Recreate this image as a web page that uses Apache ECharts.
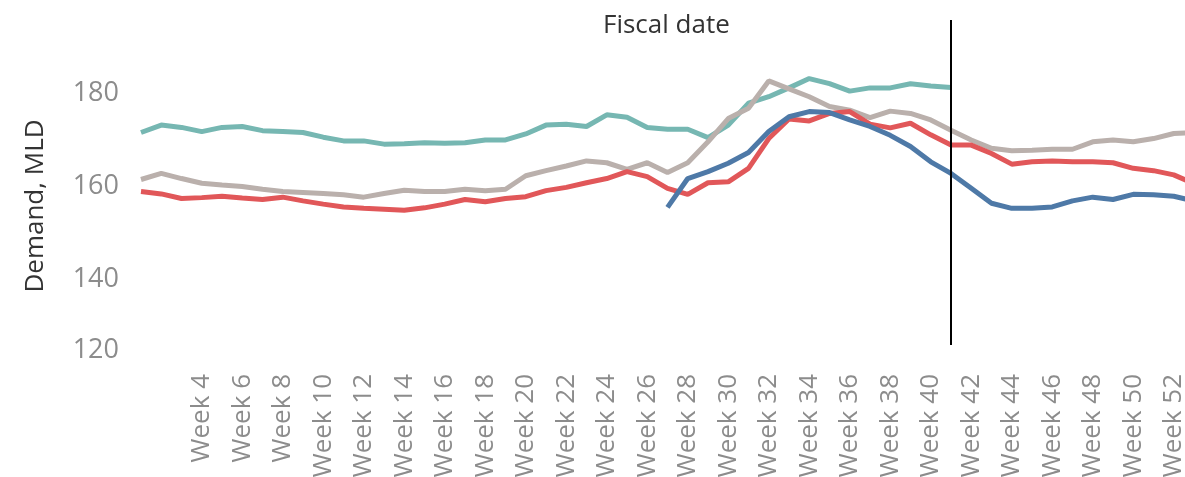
<!DOCTYPE html>
<html>
<head>
<meta charset="utf-8">
<script src="https://cdn.jsdelivr.net/npm/echarts@6/dist/echarts.min.js"></script>
<style>
html,body{margin:0;padding:0;background:#fff;}
#chart{width:1185px;height:477px;}
</style>
</head>
<body>
<div id="chart"></div>
<script>
// ---- data ----
const weeks = [];
for (let i = 1; i <= 53; i++) weeks.push('Week ' + i);

const tealSeries = [171.5,173.1,172.6,171.7,172.6,172.8,171.9,171.7,171.5,170.5,169.7,169.7,169.0,169.1,169.3,169.2,169.3,169.9,169.9,171.2,173.1,173.3,172.8,175.3,174.8,172.6,172.2,172.2,170.4,173.1,177.8,179.2,181.1,183.1,182.0,180.4,181.1,181.1,182.0,181.5,181.2];

const graySeries = [161.4,162.7,161.6,160.6,160.2,159.9,159.3,158.8,158.6,158.4,158.1,157.6,158.4,159.1,158.8,158.8,159.3,159.0,159.3,162.2,163.3,164.3,165.4,165.0,163.6,165.0,162.9,165.0,169.5,174.5,176.7,182.6,180.9,179.2,177.1,176.3,174.7,176.1,175.6,174.2,172.0,169.9,168.1,167.6,167.7,167.9,167.9,169.5,169.9,169.5,170.2,171.3,171.5];

const redSeries = [158.8,158.3,157.3,157.5,157.8,157.4,157.1,157.6,156.8,156.1,155.5,155.2,155.0,154.8,155.3,156.1,157.1,156.6,157.3,157.7,159.0,159.7,160.7,161.6,163.1,162.0,159.5,158.2,160.7,160.9,163.8,170.2,174.4,174.0,175.6,176.0,173.3,172.5,173.5,171.0,168.8,168.8,167.0,164.7,165.2,165.4,165.2,165.2,165.0,163.8,163.3,162.4,160.5];

const blueStartWeek = 27;
const blueValues = [155.4,161.6,163.1,164.9,167.2,171.7,174.9,176.0,175.8,174.2,172.8,170.9,168.5,165.2,162.7,159.5,156.3,155.2,155.2,155.5,156.8,157.6,157.1,158.2,158.1,157.8,156.8];

const yTicks = [120, 140, 160, 180];
const markerWeek = 'Week 41';
const markerRange = [195.7, 125.8];

// ---- build ----
const blueSeries = weeks.map((w, i) => (i + 1 >= blueStartWeek ? blueValues[i + 1 - blueStartWeek] : '-'));

const FONT = '"Open Sans", "Noto Sans", sans-serif';
const chart = echarts.init(document.getElementById('chart'), null, {renderer: 'canvas'});

function lineSeries(name, data, color, extra) {
  return Object.assign({
    name: name,
    type: 'line',
    data: data,
    symbol: 'none',
    smooth: false,
    connectNulls: false,
    lineStyle: {color: color, width: 5},
    itemStyle: {color: color},
    clip: false,
    silent: true
  }, extra || {});
}

chart.setOption({
  animation: false,
  backgroundColor: '#ffffff',
  title: {
    text: 'Fiscal date',
    left: 598,
    top: 8,
    textStyle: {fontFamily: FONT, fontSize: 26, fontWeight: 'normal', color: '#333333'}
  },
  grid: {left: 141, width: 1053, top: 0, height: 372, containLabel: false, outerBoundsMode: 'none'},
  xAxis: {
    type: 'category',
    data: weeks,
    boundaryGap: false,
    axisLine: {show: false},
    axisTick: {show: false},
    splitLine: {show: false},
    axisLabel: {
      rotate: 90,
      margin: 2,
      fontFamily: FONT,
      fontSize: 26,
      color: '#8c8c8c',
      interval: function (idx) { const w = idx + 1; return w % 2 === 0 && w >= 4 && w <= 52; }
    }
  },
  yAxis: {
    type: 'value',
    min: 120,
    max: 200,
    interval: 20,
    name: 'Demand, MLD',
    nameLocation: 'middle',
    nameGap: 92,
    nameTextStyle: {fontFamily: FONT, fontSize: 26, color: '#333333', padding: [0, 40, 0, 0]},
    axisLine: {show: false},
    axisTick: {show: false},
    splitLine: {show: false},
    axisLabel: {
      margin: 22,
      fontFamily: FONT,
      fontSize: 27,
      color: '#8c8c8c',
      formatter: function (v) {
        if (yTicks.indexOf(v) < 0) return '';
        if (v === yTicks[0]) return '{low|' + v + '}';
        return String(v);
      },
      rich: {
        low: {fontFamily: FONT, fontSize: 27, color: '#8c8c8c', padding: [0, 0, 44, 0]}
      }
    }
  },
  series: [
    lineSeries('Teal', tealSeries, '#76b7b2'),
    lineSeries('Gray', graySeries, '#bab0ac', {
      markLine: {
        silent: true,
        symbol: ['none', 'none'],
        label: {show: false},
        lineStyle: {color: '#000000', width: 2, type: 'solid'},
        data: [[{coord: [markerWeek, markerRange[0]]}, {coord: [markerWeek, markerRange[1]]}]]
      }
    }),
    lineSeries('Red', redSeries, '#e15759'),
    lineSeries('Blue', blueSeries, '#4e79a7')
  ]
});
</script>
</body>
</html>
